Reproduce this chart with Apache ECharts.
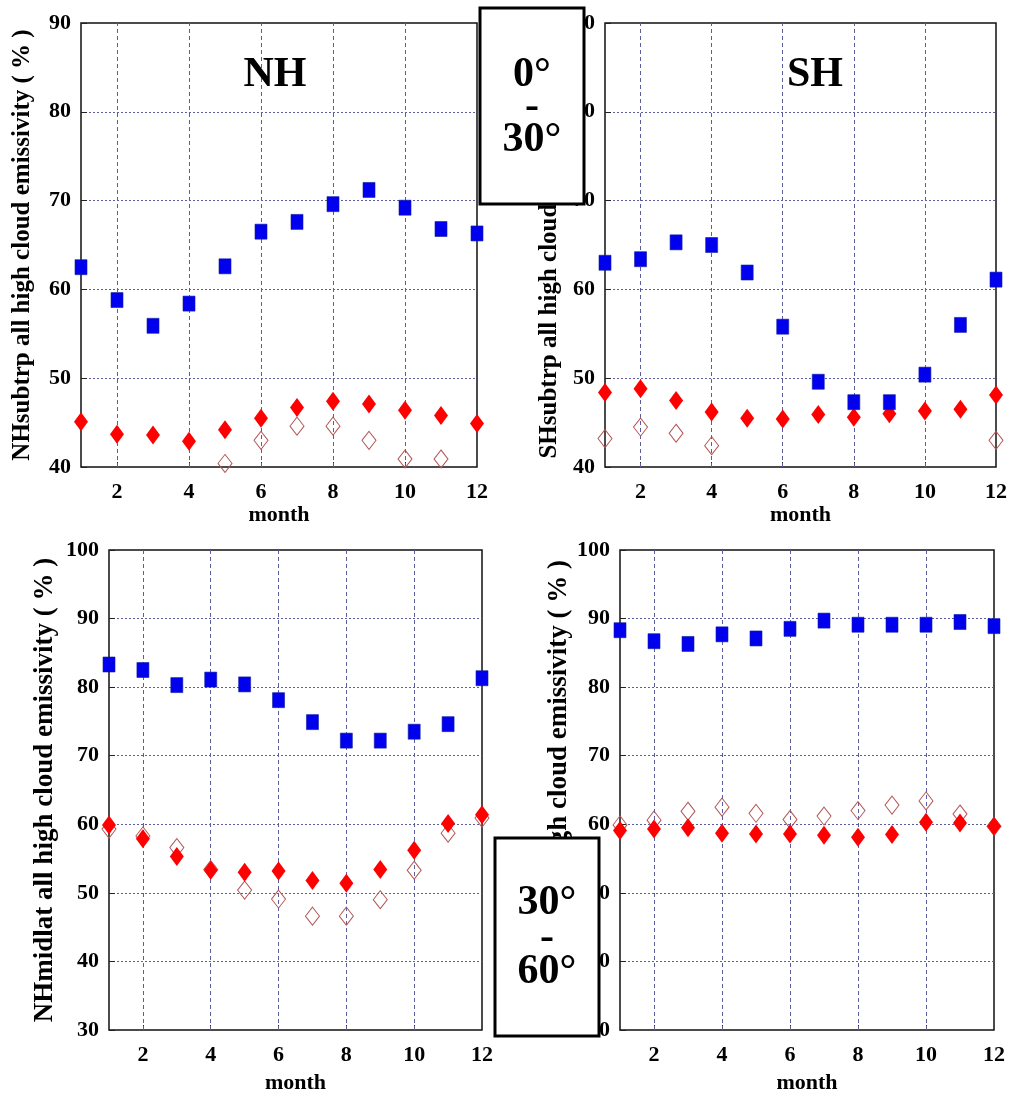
<!DOCTYPE html>
<html>
<head>
<meta charset="utf-8">
<script src="https://cdn.jsdelivr.net/npm/echarts@6/dist/echarts.min.js"></script>
<style>
  html, body { margin: 0; padding: 0; background: #fff; }
  #chart { width: 1012px; height: 1096px; }
</style>
</head>
<body>
<div id="chart"></div>
<script>
// ---------- DATA ----------
const months = [1, 2, 3, 4, 5, 6, 7, 8, 9, 10, 11, 12];
const xTickLabels = [2, 4, 6, 8, 10, 12];

// 0-30 NH (subtropics)
const nhSubBlue = [62.5, 58.8, 55.9, 58.4, 62.6, 66.5, 67.6, 69.6, 71.2, 69.2, 66.8, 66.3];
const nhSubRed  = [45.1, 43.7, 43.6, 42.9, 44.2, 45.5, 46.7, 47.4, 47.1, 46.4, 45.8, 44.9];
const nhSubOpen = [null, null, null, null, 40.4, 43.0, 44.6, 44.6, 43.0, 40.9, 40.9, null];

// 0-30 SH (subtropics)
const shSubBlue = [63.0, 63.4, 65.3, 65.0, 61.9, 55.8, 49.6, 47.3, 47.3, 50.4, 56.0, 61.1];
const shSubRed  = [48.4, 48.8, 47.5, 46.2, 45.5, 45.4, 45.9, 45.6, 46.0, 46.3, 46.5, 48.1];
const shSubOpen = [43.2, 44.5, 43.8, 42.4, null, null, null, null, null, null, null, 43.0];

// 30-60 NH (midlatitudes)
const nhMidBlue = [83.3, 82.5, 80.3, 81.1, 80.4, 78.1, 74.9, 72.2, 72.2, 73.5, 74.6, 81.3];
const nhMidRed  = [59.9, 57.9, 55.3, 53.3, 53.0, 53.2, 51.8, 51.4, 53.4, 56.2, 60.1, 61.4];
const nhMidOpen = [59.3, 58.3, 56.6, 53.4, 50.4, 49.1, 46.6, 46.6, 49.0, 53.3, 58.7, 60.9];

// 30-60 SH (midlatitudes)
const shMidBlue = [88.3, 86.7, 86.3, 87.7, 87.1, 88.5, 89.7, 89.1, 89.1, 89.1, 89.5, 88.9];
const shMidRed  = [59.1, 59.3, 59.5, 58.7, 58.6, 58.6, 58.4, 58.1, 58.5, 60.3, 60.2, 59.7];
const shMidOpen = [59.9, 60.6, 61.9, 62.5, 61.6, 60.7, 61.2, 62.0, 62.8, 63.4, 61.5, 59.7];

const yTitles = [
  'NHsubtrp all high cloud emissivity ( % )',
  'SHsubtrp all high cloud emissivity ( % )',
  'NHmidlat all high cloud emissivity ( % )',
  'SHmidlat all high cloud emissivity ( % )'
];
const panelTitles = ['NH', 'SH'];
const boxTexts = [['0°', '-', '30°'], ['30°', '-', '60°']];

// ---------- LAYOUT ----------
const FONT = '"Liberation Serif", "Times New Roman", serif';
const grids = [
  { left: 81,  top: 23,  width: 396, height: 444 },
  { left: 605, top: 23,  width: 391, height: 444 },
  { left: 109, top: 550, width: 373, height: 480 },
  { left: 620, top: 550, width: 374, height: 480 }
];
const yRanges = [[40, 90], [40, 90], [30, 100], [30, 100]];
const nameGaps = [46, 43, 50, 47];
const nameSizes = [25, 25, 27, 27];
const xNameGaps = [37, 37, 42, 42];

const pair = arr => months.map((m, i) => [m, arr[i]]);
const panels = [
  [nhSubBlue, nhSubRed, nhSubOpen],
  [shSubBlue, shSubRed, shSubOpen],
  [nhMidBlue, nhMidRed, nhMidOpen],
  [shMidBlue, shMidRed, shMidOpen]
];

const gridColor = '#5c5ca0';

const option = {
  animation: false,
  backgroundColor: '#ffffff',
  grid: grids.map(g => Object.assign({
    show: true, borderColor: '#111', borderWidth: 1.5, backgroundColor: '#fff', containLabel: false
  }, g)),
  xAxis: grids.map((g, i) => ({
    type: 'value', gridIndex: i, min: 1, max: 12, interval: 1,
    name: 'month', nameLocation: 'middle', nameGap: xNameGaps[i],
    nameTextStyle: { fontFamily: FONT, fontWeight: 'bold', fontSize: 22, color: '#000' },
    axisLine: { show: false },
    axisTick: { show: true, inside: true, length: 5, customValues: xTickLabels.slice(0, 5), lineStyle: { color: '#222' } },
    splitLine: { show: false },
    axisLabel: {
      margin: 14, fontFamily: FONT, fontWeight: 'bold', fontSize: 22, color: '#000',
      formatter: v => (xTickLabels.indexOf(v) >= 0 ? String(v) : '')
    }
  })),
  yAxis: grids.map((g, i) => ({
    type: 'value', gridIndex: i, min: yRanges[i][0], max: yRanges[i][1], interval: 10,
    name: yTitles[i], nameLocation: 'middle', nameGap: nameGaps[i], nameRotate: 90,
    nameTextStyle: { fontFamily: FONT, fontWeight: 'bold', fontSize: nameSizes[i], color: '#000' },
    axisLine: { show: false },
    axisTick: { show: true, inside: true, length: 6, lineStyle: { color: '#222' } },
    splitLine: { show: true, showMinLine: false, showMaxLine: false, lineStyle: { color: gridColor, type: [2, 2], width: 1 } },
    axisLabel: { margin: 10, fontFamily: FONT, fontWeight: 'bold', fontSize: 22, color: '#000' }
  })),
  series: [],
  graphic: []
};

panels.forEach((p, i) => {
  option.series.push({
    type: 'scatter', xAxisIndex: i, yAxisIndex: i, z: 2,
    data: pair(p[2]), symbol: 'diamond', symbolSize: [14, 18],
    itemStyle: { color: 'rgba(255,255,255,0)', borderColor: '#b35555', borderWidth: 1, opacity: 1 },
    markLine: {
      silent: true, z: 1, symbol: ['none', 'none'], label: { show: false },
      lineStyle: { color: gridColor, type: [4, 3], width: 1 },
      data: xTickLabels.slice(0, 5).map(v => ({ xAxis: v }))
    }
  });
  option.series.push({
    type: 'scatter', xAxisIndex: i, yAxisIndex: i, z: 3,
    data: pair(p[1]), symbol: 'diamond', symbolSize: [14, 19],
    itemStyle: { color: '#ff0000', opacity: 1 }
  });
  option.series.push({
    type: 'scatter', xAxisIndex: i, yAxisIndex: i, z: 4,
    data: pair(p[0]), symbol: 'rect', symbolSize: [12, 15],
    itemStyle: { color: '#0000ee', borderColor: '#1020a0', borderWidth: 0.6, opacity: 1 }
  });
});

// panel titles
option.graphic.push({
  type: 'text', z: 50, x: 275, y: 75,
  style: { text: panelTitles[0], font: 'bold 42px ' + FONT, fill: '#000', align: 'center', verticalAlign: 'middle' }
});
option.graphic.push({
  type: 'text', z: 50, x: 815, y: 75,
  style: { text: panelTitles[1], font: 'bold 42px ' + FONT, fill: '#000', align: 'center', verticalAlign: 'middle' }
});

// latitude boxes
function addBox(x, y, w, h, texts, ys) {
  option.graphic.push({
    type: 'rect', z: 100, shape: { x: x, y: y, width: w, height: h },
    style: { fill: '#fff', stroke: '#000', lineWidth: 3 }
  });
  texts.forEach((t, k) => {
    option.graphic.push({
      type: 'text', z: 101, x: x + w / 2, y: ys[k],
      style: { text: t, font: 'bold 42px ' + FONT, fill: '#000', align: 'center', verticalAlign: 'middle' }
    });
  });
}
addBox(480, 8, 104, 196, boxTexts[0], [75, 107, 140]);
addBox(495, 838, 104, 198, boxTexts[1], [903, 938, 972]);

const chart = echarts.init(document.getElementById('chart'), null, { renderer: 'canvas' });
chart.setOption(option);
</script>
</body>
</html>
